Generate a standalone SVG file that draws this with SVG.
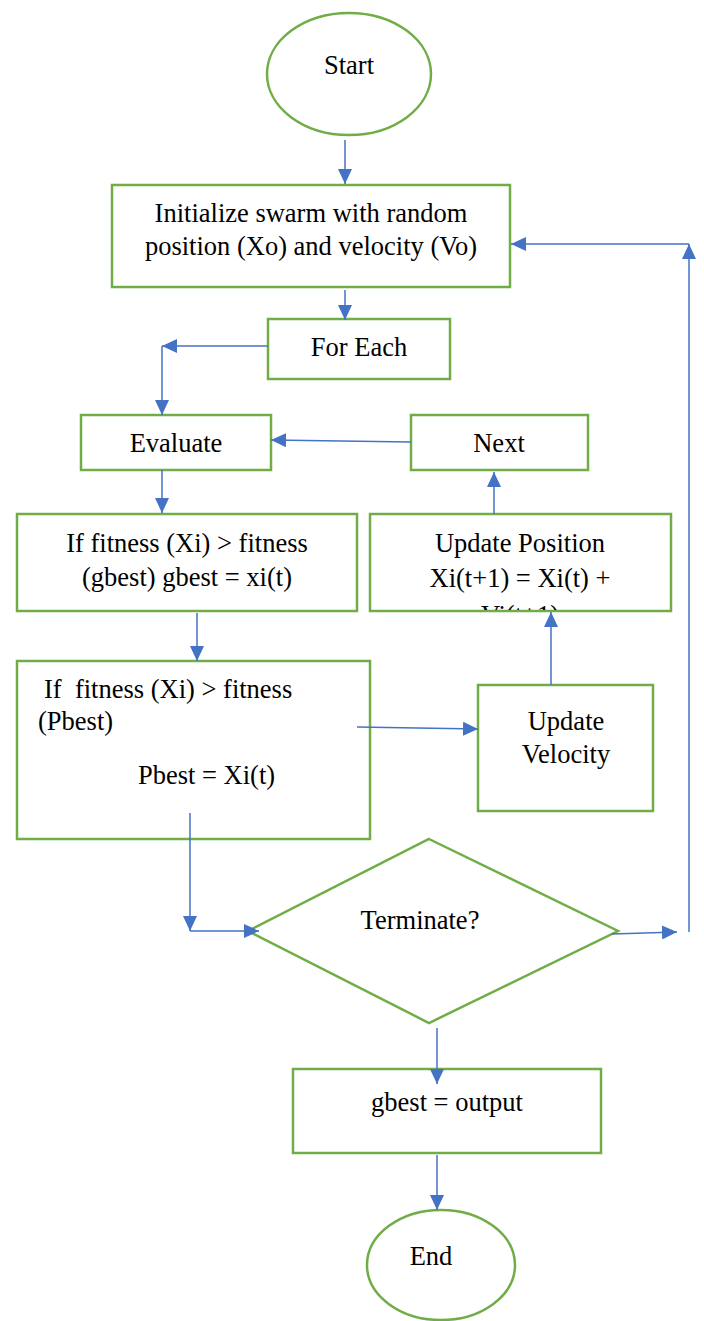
<svg xmlns="http://www.w3.org/2000/svg" width="704" height="1321" viewBox="0 0 704 1321">
<style>
.n{fill:#fff;stroke:#70AD47;stroke-width:2.5}
.c{fill:none;stroke:#4472C4;stroke-width:1.5}
text{font-family:'Liberation Serif','Times New Roman','DejaVu Serif',serif;font-size:26.5px;fill:#000}
.m{text-anchor:middle}
</style>
<defs>
<marker id="a" markerUnits="userSpaceOnUse" markerWidth="16" markerHeight="14" refX="15" refY="7" orient="auto">
<path d="M0,0 L15,7 L0,14 z" fill="#4472C4"/>
</marker>
<clipPath id="upc"><rect x="371" y="515" width="299" height="95"/></clipPath>
</defs>
<g id="start">
<ellipse class="n" cx="349" cy="74" rx="82" ry="61"/>
<text class="m" x="349" y="74">Start</text>
</g>
<g id="init">
<rect class="n" x="112" y="185" width="398" height="102"/>
<text class="m" x="311" y="222">Initialize swarm with random</text>
<text class="m" x="311" y="255">position (Xo) and velocity (Vo)</text>
</g>
<g id="foreach">
<rect class="n" x="268" y="319" width="182" height="60"/>
<text class="m" x="359" y="356">For Each</text>
</g>
<g id="evaluate">
<rect class="n" x="81" y="415" width="190" height="55"/>
<text class="m" x="176" y="452">Evaluate</text>
</g>
<g id="next">
<rect class="n" x="411" y="415" width="177" height="55"/>
<text class="m" x="499" y="452">Next</text>
</g>
<g id="gbest-check">
<rect class="n" x="17" y="514" width="340" height="97"/>
<text class="m" x="187" y="552">If fitness (Xi) &gt; fitness</text>
<text class="m" x="187" y="586">(gbest) gbest = xi(t)</text>
</g>
<g id="update-position">
<rect class="n" x="370" y="514" width="301" height="97"/>
<g clip-path="url(#upc)">
<text class="m" x="520" y="552">Update Position</text>
<text class="m" x="520" y="587">Xi(t+1) = Xi(t) +</text>
<text class="m" x="520" y="624">Vi(t+1)</text>
</g>
</g>
<g id="pbest-check">
<rect class="n" x="17" y="661" width="353" height="178"/>
<text x="44" y="698" xml:space="preserve">If  fitness (Xi) &gt; fitness</text>
<text x="38" y="730">(Pbest)</text>
<text x="138" y="784">Pbest = Xi(t)</text>
</g>
<g id="update-velocity">
<rect class="n" x="478" y="685" width="175" height="126"/>
<text class="m" x="566" y="730">Update</text>
<text class="m" x="566" y="763">Velocity</text>
</g>
<g id="terminate">
<polygon class="n" points="429,839 618,931 429,1023 248,931"/>
<text class="m" x="420" y="929">Terminate?</text>
</g>
<g id="output">
<rect class="n" x="293" y="1069" width="308" height="84"/>
<text class="m" x="447" y="1111">gbest = output</text>
</g>
<g id="end">
<ellipse class="n" cx="441" cy="1265" rx="74" ry="55"/>
<text class="m" x="431" y="1265">End</text>
</g>
<g id="connectors">
<path class="c" d="M345,140 V184" marker-end="url(#a)"/>
<path class="c" d="M345,290 V320" marker-end="url(#a)"/>
<path class="c" d="M268,346 H162" marker-end="url(#a)"/>
<path class="c" d="M162,346 V415" marker-end="url(#a)"/>
<path class="c" d="M411,442 L271,440" marker-end="url(#a)"/>
<path class="c" d="M162,470 V513" marker-end="url(#a)"/>
<path class="c" d="M494,514 V472" marker-end="url(#a)"/>
<path class="c" d="M197,613 V661" marker-end="url(#a)"/>
<path class="c" d="M357,727 L478,729" marker-end="url(#a)"/>
<path class="c" d="M551,685 V612" marker-end="url(#a)"/>
<path class="c" d="M190,813 V931" marker-end="url(#a)"/>
<path class="c" d="M190,931 H259" marker-end="url(#a)"/>
<path class="c" d="M612,934 L677,932" marker-end="url(#a)"/>
<path class="c" d="M689,932 V244" marker-end="url(#a)"/>
<path class="c" d="M689,244 H511" marker-end="url(#a)"/>
<path class="c" d="M437,1028 V1084" marker-end="url(#a)"/>
<path class="c" d="M437,1155 V1210" marker-end="url(#a)"/>
</g>
</svg>
